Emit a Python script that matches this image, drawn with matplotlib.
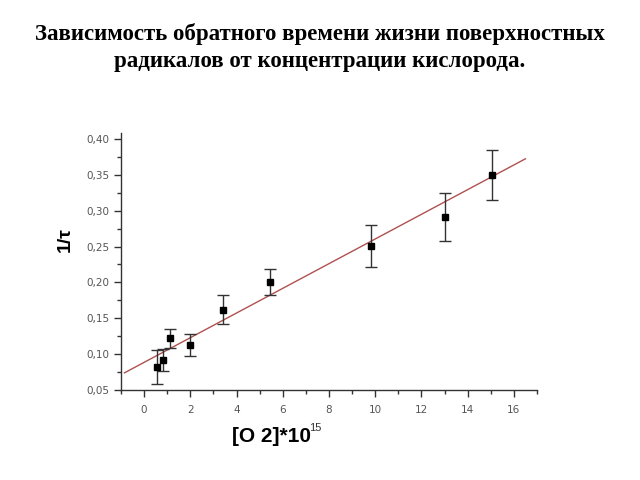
import matplotlib
matplotlib.use("Agg")
import matplotlib.pyplot as plt
import numpy as np
from matplotlib.ticker import MultipleLocator, FuncFormatter

# Data
o2 = [0.57, 0.83, 1.13, 2.0, 3.43, 5.43, 9.83, 13.04, 15.04]
inv_tau = [0.082, 0.092, 0.122, 0.113, 0.162, 0.200, 0.251, 0.291, 0.350]
err = [0.024, 0.015, 0.013, 0.015, 0.020, 0.018, 0.029, 0.033, 0.035]
fit_slope = 0.0172
fit_intercept = 0.0885
fit_range = [-0.85, 16.5]

title = "Зависимость обратного времени жизни поверхностных\nрадикалов от концентрации кислорода."

fig = plt.figure(figsize=(6.4, 4.8), dpi=100)
fig.text(0.5, 0.953, title, ha="center", va="top", family="Liberation Serif",
         fontweight="bold", fontsize=16.5, linespacing=1.4)

ax = fig.add_axes([0.189, 0.1875, 0.65, 0.535])
fx = np.array(fit_range)
ax.plot(fx, fit_intercept + fit_slope * fx, color="#b05050", lw=1.0)
ax.errorbar(o2, inv_tau, yerr=err, fmt="s", color="black", ms=4.5,
            ecolor="#333333", elinewidth=1.0, capsize=4.5, capthick=1.0)

ax.set_xlim(-1, 17)
ax.set_ylim(0.05, 0.408)
for s in ["top", "right"]:
    ax.spines[s].set_visible(False)
for s in ["left", "bottom"]:
    ax.spines[s].set_color("#333333")
    ax.spines[s].set_linewidth(1.0)

ax.xaxis.set_major_locator(MultipleLocator(2))
ax.xaxis.set_minor_locator(MultipleLocator(1))
ax.yaxis.set_major_locator(MultipleLocator(0.05))
ax.yaxis.set_minor_locator(MultipleLocator(0.025))
ax.yaxis.set_major_formatter(FuncFormatter(lambda v, p: f"{v:.2f}".replace(".", ",")))
ax.tick_params(which="major", direction="out", length=5, width=1, color="#333333",
               labelsize=7.5, labelcolor="#555555")
ax.tick_params(which="minor", direction="out", length=3, width=1, color="#333333")
ax.tick_params(axis="x", pad=6)

fig.text(0.102, 0.5, "1/τ", rotation=90, ha="center", va="center",
         fontsize=14, fontweight="bold", family="Liberation Sans")
fig.text(0.3625, 0.09, "[O 2]*10", ha="left", va="center",
         fontsize=15, fontweight="bold", family="Liberation Sans")
fig.text(0.483, 0.108, "15", ha="left", va="center",
         fontsize=8, family="Liberation Sans", color="#333333")

fig.savefig("out.png", dpi=100, facecolor="white")
